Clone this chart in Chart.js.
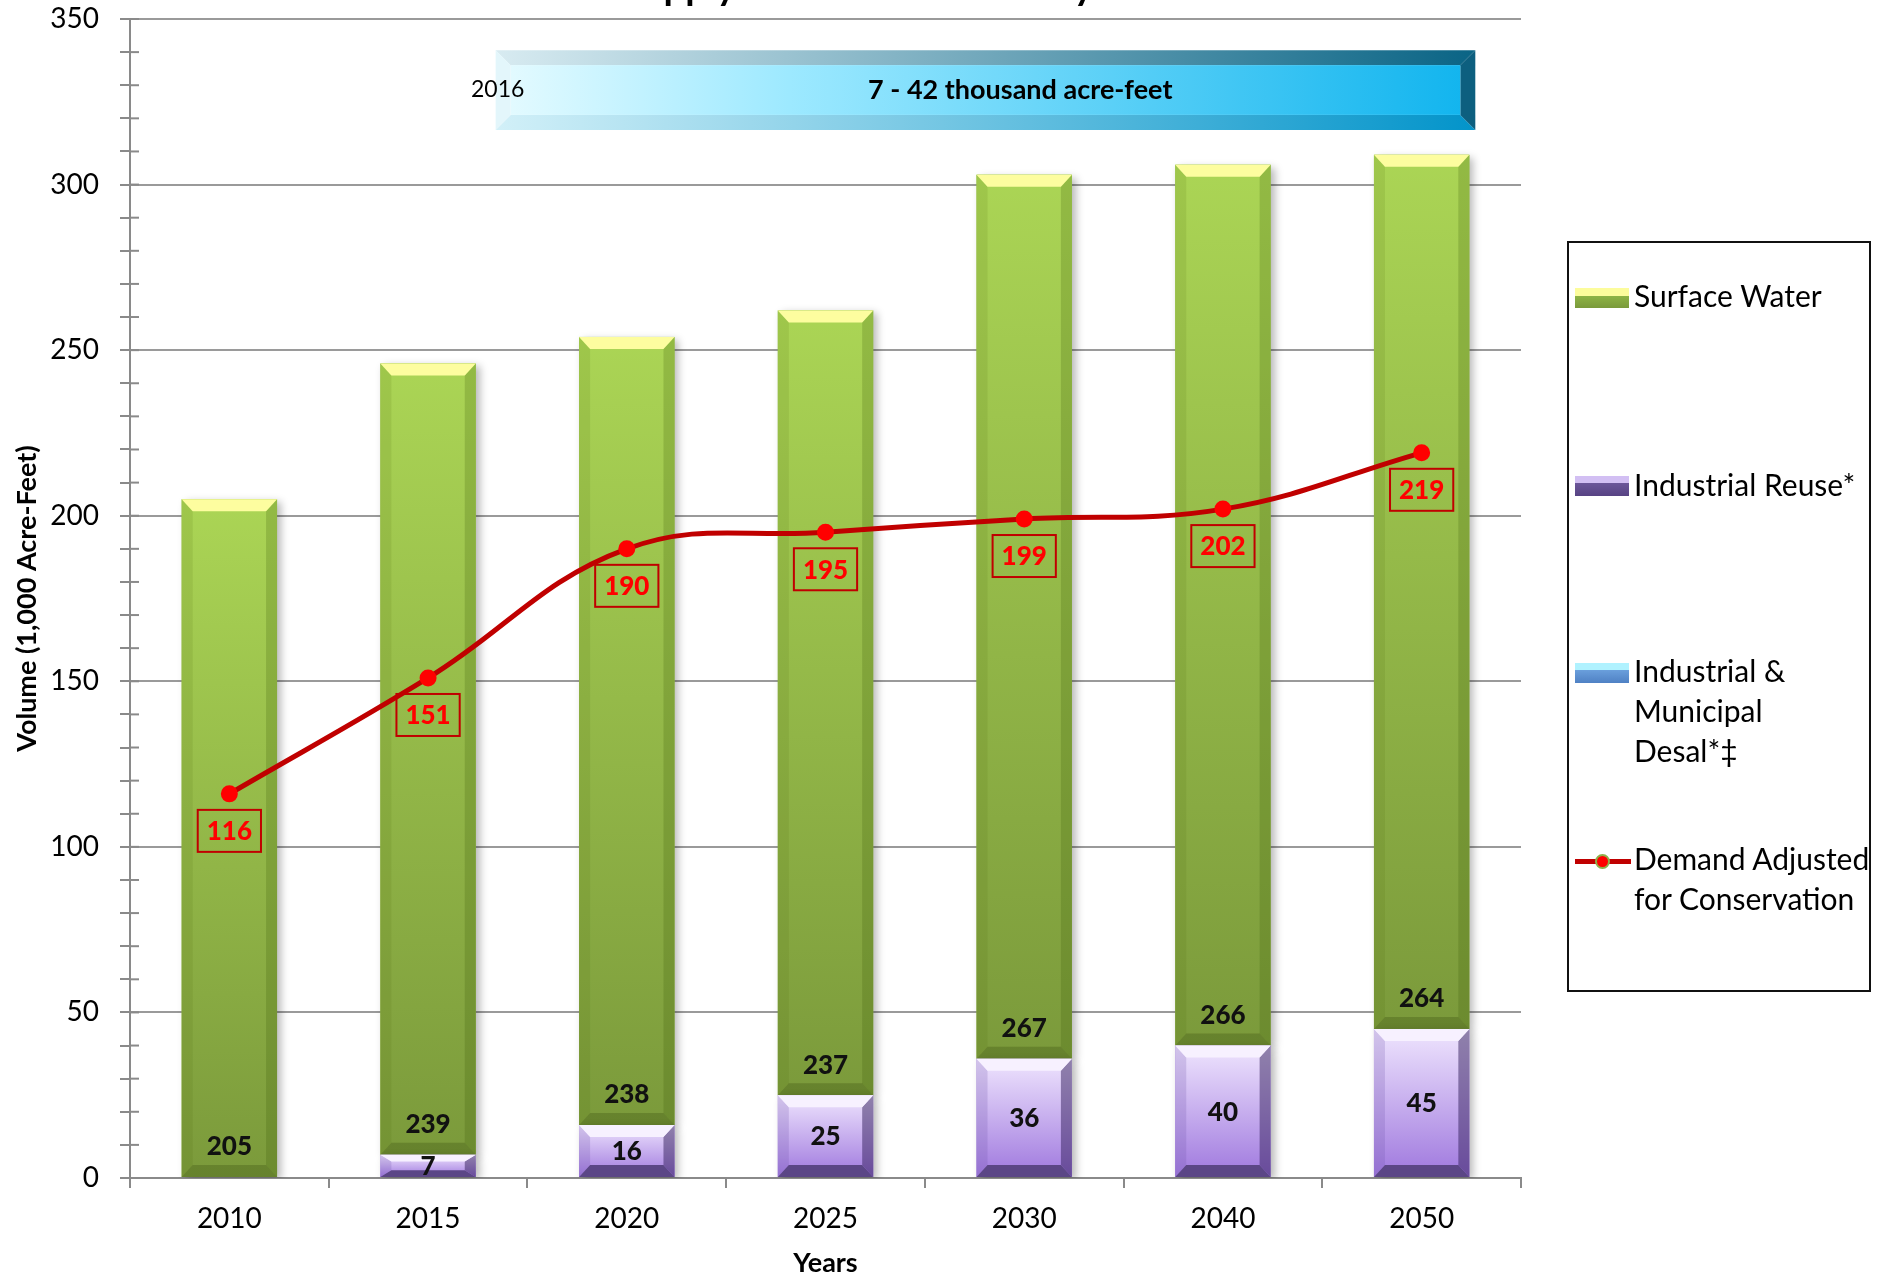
<!DOCTYPE html>
<html lang="en">
<head>
  <meta charset="UTF-8">
  <title>Water Supply and Demand</title>
  <style>
    body {
      margin: 0;
      background: #fff;
      font-family: 'Lato', sans-serif;
    }
    .wrap {
      position: relative;
      width: 1883px;
      height: 1279px;
      overflow: hidden;
    }
    canvas {
      position: absolute;
      left: 0;
      top: 0;
    }
    .legend {
      position: absolute;
      left: 1567px;
      top: 241px;
      width: 300px;
      height: 747px;
      border: 2px solid #111;
      color: #000;
      font-size: 30px;
      line-height: 40px;
    }
    .legend .sw {
      position: absolute;
      left: 6px;
      width: 54px;
      height: 20px;
    }
    .legend .txt {
      position: absolute;
      left: 65px;
      white-space: nowrap;
    }
    .sw-green { background: linear-gradient(#fcfc9c 0, #fcfc9c 40%, #8db345 40%, #7a9a3b 100%); }
    .sw-purple { background: linear-gradient(#d2bff3 0, #d2bff3 35%, #6b5699 35%, #574383 100%); }
    .sw-blue { background: linear-gradient(#b0f2ff 0, #b0f2ff 35%, #6a9fdc 35%, #4f81c4 100%); }
    .sw-line {
      position: absolute;
      left: 6px;
      top: 616px;
      width: 56px;
      height: 5px;
      background: #c00000;
    }
    .sw-dot {
      position: absolute;
      left: 26px;
      top: 611px;
      width: 11px;
      height: 11px;
      border-radius: 50%;
      background: #ff0000;
      border: 2px solid #8fb04a;
    }
  </style>
  <script src="https://cdn.jsdelivr.net/npm/chart.js"></script>
</head>
<body>
  <div class="wrap">
    <canvas id="supplyChart" width="1883" height="1279"></canvas>
    <div class="legend">
      <div class="sw sw-green" style="top:45px"></div>
      <div class="txt" style="top:32px">Surface Water</div>
      <div class="sw sw-purple" style="top:233px"></div>
      <div class="txt" style="top:221px">Industrial Reuse*</div>
      <div class="sw sw-blue" style="top:420px"></div>
      <div class="txt" style="top:407px">Industrial &amp;<br>Municipal<br>Desal*‡</div>
      <div class="sw-line"></div>
      <div class="sw-dot"></div>
      <div class="txt" style="top:595px">Demand Adjusted<br>for Conservation</div>
    </div>
  </div>

  <script>
    const years = ['2010', '2015', '2020', '2025', '2030', '2040', '2050'];
    const surfaceWater = [205, 239, 238, 237, 267, 266, 264];
    const industrialReuse = [0, 7, 16, 25, 36, 40, 45];
    const desal = [0, 0, 0, 0, 0, 0, 0];
    const demand = [116, 151, 190, 195, 199, 202, 219];

    const titleText = 'Water Supply & Demand Summary';
    const bannerYear = '2016';
    const bannerText = '7 - 42 thousand acre-feet';
    const bannerSpan = [1.34, 6.27];     // category index range
    const bannerLevels = [316.5, 340.6]; // value range (1,000 AF)

    const greenBar = {
      bodyTop: '#abd555', bodyBot: '#7b9a3b',
      left: 'rgba(70,100,10,0.12)', right: 'rgba(50,80,0,0.2)',
      top: '#fdfd9f', bottom: 'rgba(50,70,10,0.28)'
    };
    const purpleBar = {
      bodyTop: '#efe5fe', bodyBot: '#9f78de',
      left: 'rgba(110,80,170,0.22)', right: 'rgba(50,30,90,0.5)',
      top: '#f7f1ff', bottom: '#5b4686'
    };

    function poly(ctx, pts, fill) {
      ctx.beginPath();
      ctx.moveTo(pts[0][0], pts[0][1]);
      for (let i = 1; i < pts.length; i++) ctx.lineTo(pts[i][0], pts[i][1]);
      ctx.closePath();
      ctx.fillStyle = fill;
      ctx.fill();
    }

    function paintBar(ctx, el, pal) {
      const p = el.getProps(['x', 'y', 'base', 'width'], true);
      const x0 = p.x - p.width / 2, x1 = p.x + p.width / 2;
      const top = Math.min(p.y, p.base), bot = Math.max(p.y, p.base);
      const h = bot - top;
      if (h < 1) return;
      const b = Math.min(11, p.width * 0.12);
      const t = Math.min(12, h * 0.3);
      const g = ctx.createLinearGradient(0, top, 0, bot);
      g.addColorStop(0, pal.bodyTop);
      g.addColorStop(1, pal.bodyBot);
      ctx.fillStyle = g;
      ctx.fillRect(x0, top, p.width, h);
      poly(ctx, [[x0, top], [x0 + b, top + t], [x0 + b, bot - t], [x0, bot]], pal.left);
      poly(ctx, [[x1, top], [x1 - b, top + t], [x1 - b, bot - t], [x1, bot]], pal.right);
      poly(ctx, [[x0, top], [x1, top], [x1 - b, top + t], [x0 + b, top + t]], pal.top);
      poly(ctx, [[x0, bot], [x1, bot], [x1 - b, bot - t], [x0 + b, bot - t]], pal.bottom);
    }

    // bevelled bars with a soft drop shadow
    const bevelPlugin = {
      id: 'bevel',
      beforeDatasetDraw(chart, args) {
        const ds = chart.data.datasets[args.index];
        if (!ds.bevel) return;
        const ctx = chart.ctx;
        ctx.save();
        ctx.shadowColor = 'rgba(0,0,0,0.28)';
        ctx.shadowBlur = 8;
        ctx.shadowOffsetX = 4;
        ctx.shadowOffsetY = 3;
      },
      afterDatasetDraw(chart, args) {
        const ds = chart.data.datasets[args.index];
        if (!ds.bevel) return;
        const ctx = chart.ctx;
        ctx.restore();
        ctx.save();
        args.meta.data.forEach(el => paintBar(ctx, el, ds.bevel));
        ctx.restore();
      }
    };

    // value labels, banner, title, inner minor ticks
    const extrasPlugin = {
      id: 'extras',
      afterDatasetsDraw(chart) {
        const ctx = chart.ctx;
        ctx.save();
        ctx.textAlign = 'center';
        ctx.textBaseline = 'middle';
        ctx.font = '900 26px Lato';

        const reuseMeta = chart.getDatasetMeta(0);
        const swMeta = chart.getDatasetMeta(2);
        const lineMeta = chart.getDatasetMeta(3);

        ctx.fillStyle = '#111';
        industrialReuse.forEach((v, i) => {
          if (!v) return;
          const el = reuseMeta.data[i];
          ctx.fillText(String(v), el.x, (el.y + el.base) / 2 + 1);
        });
        surfaceWater.forEach((v, i) => {
          const el = swMeta.data[i];
          ctx.fillText(String(v), el.x, el.base - 30);
        });

        demand.forEach((v, i) => {
          const el = lineMeta.data[i];
          const cy = el.y + 37;
          const w = ctx.measureText(String(v)).width + 18;
          ctx.strokeStyle = '#c00000';
          ctx.lineWidth = 2;
          ctx.strokeRect(el.x - w / 2, cy - 21, w, 42);
          ctx.fillStyle = '#ff0000';
          ctx.fillText(String(v), el.x, cy + 1);
        });
        ctx.restore();
      },
      afterDraw(chart) {
        const ctx = chart.ctx;
        const xs = chart.scales.x, ys = chart.scales.y;
        const area = chart.chartArea;
        ctx.save();

        // minor tick marks crossing into the plot
        ctx.strokeStyle = '#8a8a8a';
        ctx.lineWidth = 2;
        ys.ticks.forEach(tk => {
          const py = ys.getPixelForValue(tk.value);
          ctx.beginPath();
          ctx.moveTo(area.left, py);
          ctx.lineTo(area.left + 9, py);
          ctx.stroke();
        });

        // desal banner
        const L = xs.getPixelForValue(bannerSpan[0]);
        const R = xs.getPixelForValue(bannerSpan[1]);
        const T = ys.getPixelForValue(bannerLevels[1]);
        const B = ys.getPixelForValue(bannerLevels[0]);
        const bv = 15;
        const grad = (c0, c1) => {
          const g = ctx.createLinearGradient(L, 0, R, 0);
          g.addColorStop(0, c0);
          g.addColorStop(1, c1);
          return g;
        };
        poly(ctx, [[L, T], [R, T], [R - bv, T + bv], [L + bv, T + bv]], grad('#d8ebf1', '#0a6485'));
        poly(ctx, [[L, B], [R, B], [R - bv, B - bv], [L + bv, B - bv]], grad('#d2f0f8', '#0394ca'));
        poly(ctx, [[L, T], [L + bv, T + bv], [L + bv, B - bv], [L, B]], '#e3f6fb');
        poly(ctx, [[R, T], [R - bv, T + bv], [R - bv, B - bv], [R, B]], '#0d5f7f');
        const face = ctx.createLinearGradient(L, 0, R, 0);
        face.addColorStop(0, '#e6fbff');
        face.addColorStop(0.3, '#9de9ff');
        face.addColorStop(1, '#10b4ee');
        ctx.fillStyle = face;
        ctx.fillRect(L + bv, T + bv, R - L - 2 * bv, B - T - 2 * bv);

        ctx.textAlign = 'center';
        ctx.textBaseline = 'middle';
        ctx.fillStyle = '#000';
        ctx.font = 'bold 27px Lato';
        ctx.fillText(bannerText, xs.getPixelForValue(3.98), (T + B) / 2);
        ctx.font = '23px Lato';
        ctx.fillText(bannerYear, L + 2, (T + B) / 2);

        // chart title, mostly above the visible frame
        ctx.font = 'bold 38px Lato';
        ctx.textBaseline = 'alphabetic';
        ctx.fillText(titleText, (area.left + area.right) / 2 - 25, 0);
        ctx.restore();
      }
    };

    const ctx = document.getElementById('supplyChart').getContext('2d');
    const supplyChart = new Chart(ctx, {
      type: 'bar',
      data: {
        labels: years,
        datasets: [
          {
            label: 'Industrial Reuse*',
            data: industrialReuse,
            backgroundColor: '#9b7ad6',
            bevel: purpleBar,
            stack: 'supply',
            order: 1
          },
          {
            label: 'Industrial & Municipal Desal*‡',
            data: desal,
            backgroundColor: '#5b8fd4',
            stack: 'supply',
            order: 1
          },
          {
            label: 'Surface Water',
            data: surfaceWater,
            backgroundColor: '#93b948',
            bevel: greenBar,
            stack: 'supply',
            order: 1
          },
          {
            type: 'line',
            label: 'Demand Adjusted for Conservation',
            data: demand,
            borderColor: '#c00000',
            borderWidth: 5,
            pointRadius: 6,
            pointBackgroundColor: '#ff0000',
            pointBorderColor: '#ff0000',
            tension: 0.4,
            order: 0
          }
        ]
      },
      options: {
        responsive: false,
        animation: false,
        devicePixelRatio: 1,
        datasets: {
          bar: { barPercentage: 0.48, categoryPercentage: 1 }
        },
        layout: { padding: { left: 0, top: 19, right: 362, bottom: 0 } },
        scales: {
          x: {
            stacked: true,
            afterFit: s => {
              s.height = 101;
              s.paddingLeft = 0;
              s.paddingRight = 0;
            },
            grid: {
              offset: true,
              drawOnChartArea: false,
              tickLength: 10,
              color: '#8a8a8a',
              lineWidth: 2
            },
            border: { color: '#8a8a8a', width: 2 },
            ticks: {
              color: '#000',
              font: { family: 'Lato', size: 28 },
              padding: 14
            },
            title: {
              display: true,
              text: 'Years',
              color: '#000',
              font: { family: 'Lato', size: 27, weight: 'bold' },
              padding: { top: 0, bottom: 0 }
            }
          },
          y: {
            stacked: true,
            min: 0,
            max: 350,
            afterFit: s => {
              s.width = 130;
              s.paddingTop = 0;
              s.paddingBottom = 0;
            },
            grid: {
              color: c => (c.tick && c.tick.value % 50 === 0) ? '#9a9a9a' : 'rgba(0,0,0,0)',
              tickColor: '#8a8a8a',
              tickLength: 10,
              lineWidth: 2
            },
            border: { color: '#8a8a8a', width: 2 },
            ticks: {
              stepSize: 10,
              autoSkip: false,
              color: '#000',
              font: { family: 'Lato', size: 28 },
              padding: 21,
              callback: v => (v % 50 === 0 ? v : '')
            },
            title: {
              display: true,
              text: 'Volume (1,000 Acre-Feet)',
              color: '#000',
              font: { family: 'Lato', size: 27, weight: 'bold' },
              padding: { top: 11, bottom: 0 }
            }
          }
        },
        plugins: {
          legend: { display: false },
          tooltip: { enabled: false }
        }
      },
      plugins: [bevelPlugin, extrasPlugin]
    });
  </script>
</body>
</html>
